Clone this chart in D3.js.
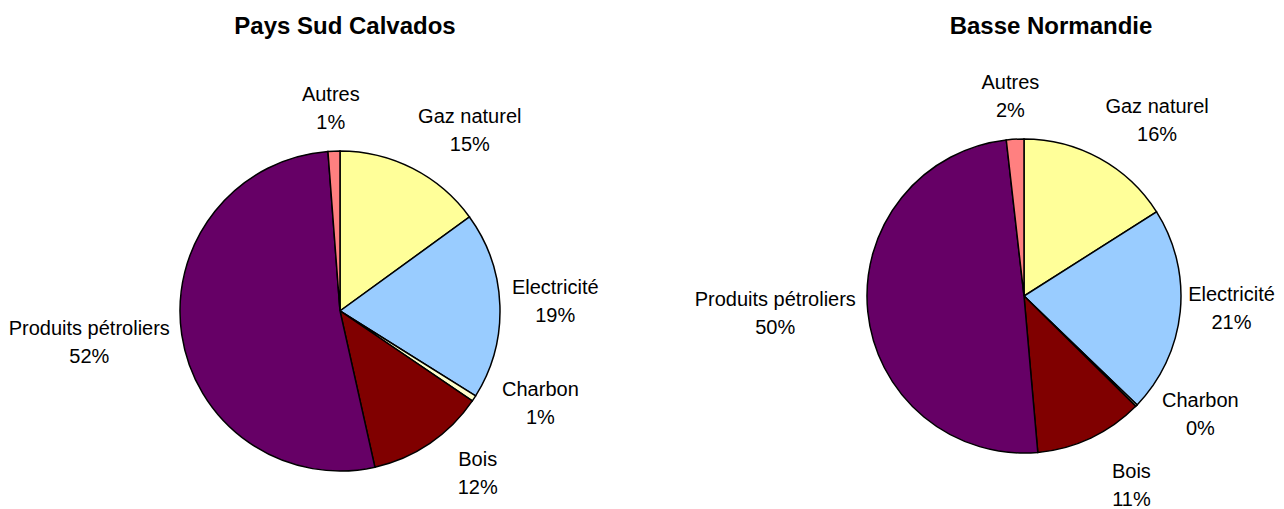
<!doctype html>
<html>
  <head>
    <meta charset="utf-8">
    <script src="https://cdnjs.cloudflare.com/ajax/libs/d3/7.8.5/d3.min.js"></script>
    <style>
      body { margin: 0; background: #fff; }
      svg { display: block; font-family: "Liberation Sans", Arial, sans-serif; }
      .title { font-size: 24px; font-weight: bold; }
      .lbl { font-size: 20px; fill: #000; }
      .slice { stroke: #000; stroke-width: 1.5; }
    </style>
  </head>
  <body>
    <svg width="1284" height="509"></svg>
    <script>
      // energy consumption shares (%)
      var categories = ["Gaz naturel", "Electricité", "Charbon", "Bois", "Produits pétroliers", "Autres"];
      var paysSudCalvados = [15.0, 18.9, 0.6, 12.0, 52.3, 1.2];
      var basseNormandie = [16.0, 21.2, 0.2, 11.2, 49.6, 1.8];
      var titles = ["Pays Sud Calvados", "Basse Normandie"];
      var colors = ["#FFFF99", "#99CCFF", "#FFFFCC", "#800000", "#660066", "#FF8080"];

      var color = d3.scaleOrdinal().domain(categories).range(colors);

      // layout of each pie; nudge = Excel moves some labels off the plain rule
      var charts = [
        { title: titles[0], values: paysSudCalvados, cx: 340, cy: 311, r: 160, titleX: 345,
          nudge: { "Charbon": [18, -14], "Bois": [21, 0], "Produits pétroliers": [0, 5] } },
        { title: titles[1], values: basseNormandie, cx: 1024, cy: 296, r: 157, titleX: 1051,
          nudge: { "Charbon": [17, -17], "Bois": [16, 14], "Electricité": [-4, -5] } }
      ];

      var svg = d3.select("svg");
      var pie = d3.pie().sort(null).value(d => d.value);
      var clamp = v => Math.max(-1, Math.min(1, v));

      charts.forEach(chart => {
        var data = categories.map((c, i) => ({ cat: c, value: chart.values[i] }));
        var total = d3.sum(data, d => d.value);
        var arcs = pie(data);
        var arc = d3.arc().innerRadius(0).outerRadius(chart.r);

        svg.append("text")
          .attr("class", "title")
          .attr("x", chart.titleX)
          .attr("y", 34)
          .attr("text-anchor", "middle")
          .text(chart.title);

        var g = svg.append("g")
          .attr("transform", `translate(${chart.cx},${chart.cy})`);

        g.selectAll("path.slice")
          .data(arcs)
          .enter()
          .append("path")
            .attr("class", "slice")
            .attr("d", arc)
            .style("fill", d => color(d.data.cat));

        var labels = g.selectAll("g.label")
          .data(arcs)
          .enter()
          .append("g")
            .attr("class", "label");

        labels.append("text")
          .attr("class", "lbl l1")
          .attr("text-anchor", "middle")
          .text(d => d.data.cat);
        labels.append("text")
          .attr("class", "lbl l2")
          .attr("text-anchor", "middle")
          .text(d => Math.round(d.data.value / total * 100) + "%");

        // outside-end placement: box sits against a point just off the rim
        labels.each(function (d) {
          var node = d3.select(this);
          var w = Math.max(node.select(".l1").node().getComputedTextLength(),
                           node.select(".l2").node().getComputedTextLength());
          var h = 56;
          var a = (d.startAngle + d.endAngle) / 2;
          var ux = Math.sin(a), uy = -Math.cos(a);
          var px = ux * (chart.r + 12), py = uy * (chart.r + 12);
          var x = px + w / 2 * clamp(ux * 2.5);
          var y = py + h / 2 * clamp(uy) - 3;
          var n = chart.nudge[d.data.cat];
          if (n) { x += n[0]; y += n[1]; }
          node.select(".l1").attr("x", x).attr("y", y - 7);
          node.select(".l2").attr("x", x).attr("y", y + 21);
        });
      });
    </script>
  </body>
</html>
